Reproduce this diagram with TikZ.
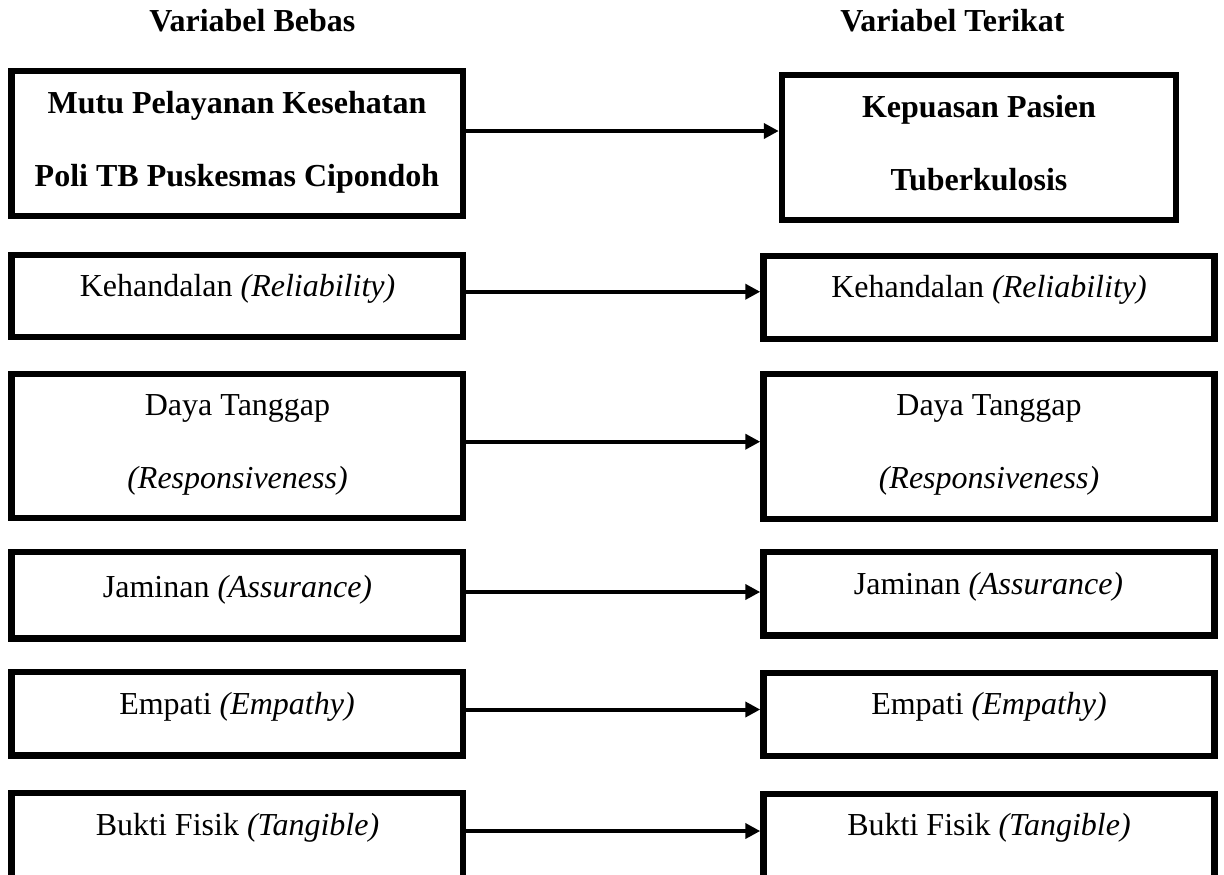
\documentclass[tikz,border=0pt]{standalone}
\usepackage{fontspec}
\setmainfont{Liberation Serif}
\usetikzlibrary{arrows.meta,fit}
\begin{document}
\begin{tikzpicture}[x=0.5pt,y=-0.5pt,
  box/.style={draw=black,line width=3.25pt,inner sep=0pt,fill=none},
  txt/.style={inner sep=0pt,anchor=base,font=\fontsize{16pt}{19pt}\selectfont},
  head/.style={inner sep=0pt,font=\fontsize{16pt}{19pt}\selectfont\bfseries},
  arr/.style={draw=black,line width=2pt,-{Triangle[length=7.5pt,width=7.5pt]}}]
\useasboundingbox (0,0) rectangle (1224,874);
\clip (0,0) rectangle (1224,874);
% headers
\node[head,anchor=base west] (hL) at (149,31.7) {Variabel Bebas};
\node[head,anchor=base east] (hR) at (1065,31.7) {Variabel Terikat};
% boxes
\node[box,fit={(11.5,71) (463,216)}] (L1) {};
\node[box,fit={(782,75) (1176,220)}] (R1) {};
\node[box,fit={(11.5,255) (463,337)}] (L2) {};
\node[box,fit={(763.5,256) (1214.7,339)}] (R2) {};
\node[box,fit={(11.5,374) (463,518)}] (L3) {};
\node[box,fit={(763.5,374) (1214.7,519)}] (R3) {};
\node[box,fit={(11.5,552) (463,638.5)}] (L4) {};
\node[box,fit={(763.5,552) (1214.7,635.5)}] (R4) {};
\node[box,fit={(11.5,672) (463,755.5)}] (L5) {};
\node[box,fit={(763.5,673) (1214.7,756)}] (R5) {};
\node[box,fit={(11.5,793) (463,900)}] (L6) {};
\node[box,fit={(763.5,794) (1214.7,900)}] (R6) {};
% texts
\node[txt] (L1a) at (237,113.3) {\textbf{Mutu Pelayanan Kesehatan}};
\node[txt] (L1b) at (237,186.7) {\textbf{Poli TB Puskesmas Cipondoh}};
\node[txt] (R1a) at (979,117.3) {\textbf{Kepuasan Pasien}};
\node[txt] (R1b) at (979,190) {\textbf{Tuberkulosis}};
\node[txt] (L2a) at (237.5,296.7) {Kehandalan \textit{(Reliability)}};
\node[txt] (R2a) at (989,297.7) {Kehandalan \textit{(Reliability)}};
\node[txt] (L3a) at (237.5,415.7) {Daya Tanggap};
\node[txt] (L3b) at (237.5,488.3) {\textit{(Responsiveness)}};
\node[txt] (R3a) at (989,415.7) {Daya Tanggap};
\node[txt] (R3b) at (989,488) {\textit{(Responsiveness)}};
\node[txt] (L4a) at (237.5,597) {Jaminan \textit{(Assurance)}};
\node[txt] (R4a) at (988.5,594) {Jaminan \textit{(Assurance)}};
\node[txt] (L5a) at (237,714) {Empati \textit{(Empathy)}};
\node[txt] (R5a) at (989,714) {Empati \textit{(Empathy)}};
\node[txt] (L6a) at (237.5,835) {Bukti Fisik \textit{(Tangible)}};
\node[txt] (R6a) at (989,835) {Bukti Fisik \textit{(Tangible)}};
% arrow heights
\coordinate (y1) at (0,131);
\coordinate (y2) at (0,291.7);
\coordinate (y3) at (0,441.7);
\coordinate (y4) at (0,592);
\coordinate (y5) at (0,709.5);
\coordinate (y6) at (0,831);
\draw[arr] (L1.east |- y1) -- (R1.west |- y1);
\draw[arr] (L2.east |- y2) -- (R2.west |- y2);
\draw[arr] (L3.east |- y3) -- (R3.west |- y3);
\draw[arr] (L4.east |- y4) -- (R4.west |- y4);
\draw[arr] (L5.east |- y5) -- (R5.west |- y5);
\draw[arr] (L6.east |- y6) -- (R6.west |- y6);
\end{tikzpicture}
\end{document}
